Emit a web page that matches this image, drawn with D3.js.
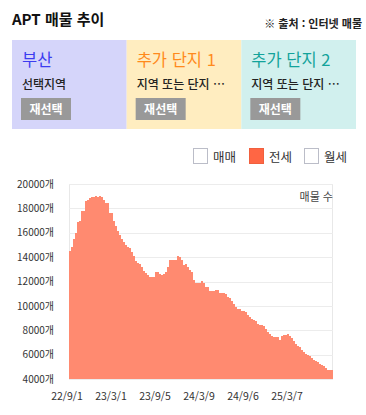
<!DOCTYPE html>
<html lang="ko">
<head>
<meta charset="utf-8">
<script src="https://cdn.jsdelivr.net/npm/d3@7"></script>
<style>
  body { margin: 0; background: #fff; }
  svg text { font-family: "Noto Sans CJK KR", "Noto Sans", sans-serif; }
</style>
</head>
<body>
<svg id="chart" width="366" height="415"></svg>
<script>
// panels on top
const panelTitles = ['부산', '추가 단지 1', '추가 단지 2'];
const panelSubs = ['선택지역', '지역 또는 단지 …', '지역 또는 단지 …'];
const panelBg = ['#d5d5fa', '#ffedc0', '#d1f0ee'];
const panelColor = ['#3c3cf0', '#ff8a1c', '#12a39b'];

// legend
const legendNames = ['매매', '전세', '월세'];
const legendOn = [false, true, false];

// 전세 매물 수
const values = [
  14540, 14790, 15450, 15990, 16900, 17000, 17750, 17750, 18570, 18710,
  18820, 18900, 18900, 18980, 18900, 19040, 18930, 18710, 18440, 18440,
  17640, 17640, 16930, 16520, 16160, 15830, 15480, 15230, 15010, 14870,
  14740, 14460, 14110, 13670, 13510, 13450, 13180, 12900, 12690, 12550,
  12330, 12330, 12380, 12740, 12740, 12640, 12500, 12600, 12820, 13180,
  13750, 13750, 13750, 13750, 14110, 14050, 13730, 13370, 13450, 13230,
  12960, 12740, 12140, 11860, 11850, 11910, 12050, 11860, 11560, 11560,
  11250, 11250, 11250, 11310, 11310, 11040, 11040, 11040, 10960, 10760,
  10680, 10430, 10140, 9890, 9730, 9730, 9550, 9550, 9500, 9230,
  9120, 8930, 8850, 8740, 8510, 8430, 8430, 8350, 8110, 7890,
  7700, 7540, 7480, 7480, 7480, 7160, 7560, 7630, 7630, 7720,
  7560, 7350, 7130, 6880, 6720, 6610, 6390, 6250, 6060, 5980,
  5850, 5710, 5520, 5470, 5430, 5240, 5130, 5050, 4880, 4750,
  4720, 4720
];
const xTickLabels = ['22/9/1', '23/3/1', '23/9/5', '24/3/9', '24/9/6', '25/3/7'];
const tickEvery = 22;
const yTicks = [4000, 6000, 8000, 10000, 12000, 14000, 16000, 18000, 20000];

const svg = d3.select('#chart');

// header
svg.append('text')
  .attr('x', 12).attr('y', 25)
  .attr('font-size', 15).attr('font-weight', 'bold').attr('fill', '#111')
  .text('APT 매물 추이');

svg.append('text')
  .attr('x', 362).attr('y', 28)
  .attr('text-anchor', 'end')
  .attr('font-size', 11).attr('font-weight', 'bold').attr('fill', '#222')
  .text('※ 출처 : 인터넷 매물');

// selection panels
const pw = (356 - 12) / 3;
const panel = svg.append('g').selectAll('g')
  .data(panelTitles)
  .join('g')
    .attr('transform', (d, i) => `translate(${12 + i * pw},40)`);

panel.append('rect')
  .attr('width', pw).attr('height', 89)
  .attr('fill', (d, i) => panelBg[i]);

panel.append('text')
  .attr('x', 10).attr('y', 26)
  .attr('font-size', 16.5)
  .attr('fill', (d, i) => panelColor[i])
  .text(d => d);

panel.append('text')
  .attr('x', 10).attr('y', 49)
  .attr('font-size', 12).attr('font-weight', 500).attr('fill', '#222')
  .text((d, i) => panelSubs[i]);

panel.append('rect')
  .attr('x', 9).attr('y', 58)
  .attr('width', 50).attr('height', 22)
  .attr('fill', '#999');

panel.append('text')
  .attr('x', 34).attr('y', 73.5)
  .attr('text-anchor', 'middle')
  .attr('font-size', 12).attr('font-weight', 'bold').attr('fill', '#fff')
  .text('재선택');

// legend
const legendX = [193, 249, 304];
const lg = svg.append('g').selectAll('g')
  .data(legendNames)
  .join('g')
    .attr('transform', (d, i) => `translate(${legendX[i]},148)`);

lg.append('rect')
  .attr('x', 0.5).attr('y', 0.5)
  .attr('width', 14).attr('height', 15)
  .attr('fill', (d, i) => legendOn[i] ? '#ff6644' : '#fff')
  .attr('stroke', (d, i) => legendOn[i] ? '#f0603e' : '#bbbdc8');

lg.append('text')
  .attr('x', 20).attr('y', 14)
  .attr('font-size', 12.5).attr('fill', '#333')
  .text(d => d);

// plot area
const plotLeft = 69, plotRight = 333, plotTop = 184, plotBottom = 379;

const x = d3.scaleBand()
  .domain(d3.range(values.length))
  .range([plotLeft, plotRight])
  .padding(0);

const y = d3.scaleLinear()
  .domain([4000, 20000])
  .range([plotBottom, plotTop]);

svg.append('rect')
  .attr('x', plotLeft + 0.5).attr('y', plotTop + 0.5)
  .attr('width', plotRight - plotLeft - 1).attr('height', plotBottom - plotTop)
  .attr('fill', 'none')
  .attr('stroke', '#e8e8e8');

svg.append('g')
  .attr('stroke', '#ececec')
  .selectAll('line')
  .data(yTicks)
  .join('line')
    .attr('x1', plotLeft).attr('x2', plotRight)
    .attr('y1', d => Math.round(y(d)) + 0.5)
    .attr('y2', d => Math.round(y(d)) + 0.5);

svg.append('g')
  .attr('fill', '#ff8a70')
  .attr('shape-rendering', 'crispEdges')
  .selectAll('rect')
  .data(values)
  .join('rect')
    .attr('x', (d, i) => x(i))
    .attr('y', d => y(d))
    .attr('width', x.bandwidth())
    .attr('height', d => plotBottom - y(d));

svg.append('text')
  .attr('x', plotRight).attr('y', 201)
  .attr('text-anchor', 'end')
  .attr('font-size', 11).attr('fill', '#444')
  .text('매물 수');

// axes
svg.append('g')
  .attr('transform', `translate(${plotLeft},0)`)
  .call(d3.axisLeft(y).tickValues(yTicks).tickSize(0).tickPadding(15)
    .tickFormat(d => d + '개'))
  .call(g => g.select('.domain').remove())
  .call(g => g.selectAll('text')
    .attr('font-size', 10).attr('fill', '#333')
    .attr('font-family', '"Noto Sans CJK KR", sans-serif'));

const tickIdx = xTickLabels.map((d, k) => k * tickEvery);

svg.append('g')
  .attr('transform', `translate(-3,${plotBottom})`)
  .call(d3.axisBottom(x).tickValues(tickIdx).tickSize(0).tickPadding(14)
    .tickFormat((d, k) => xTickLabels[k]))
  .call(g => g.select('.domain').remove())
  .call(g => g.selectAll('text')
    .attr('font-size', 10.5).attr('fill', '#333')
    .attr('font-family', '"Noto Sans CJK KR", sans-serif'));
</script>
</body>
</html>
